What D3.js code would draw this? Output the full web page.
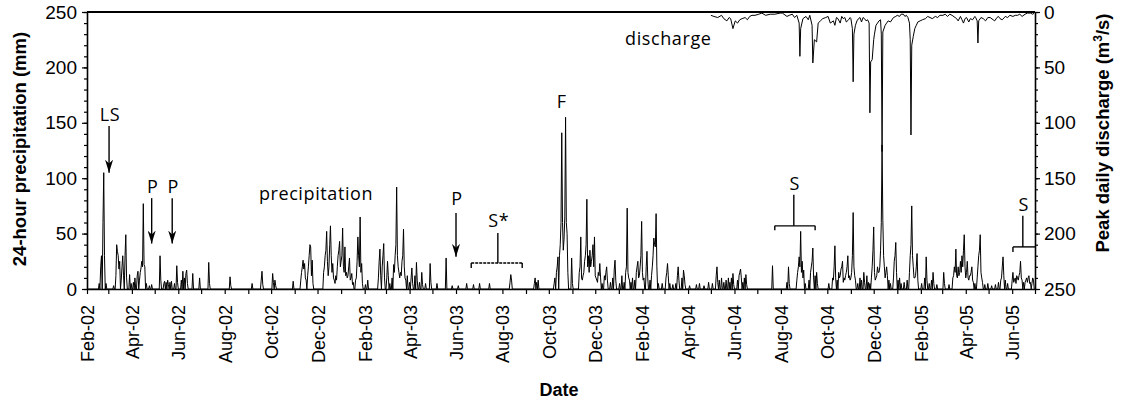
<!DOCTYPE html>
<html><head><meta charset="utf-8">
<script src="https://cdn.jsdelivr.net/npm/d3@7"></script>
<style>body{margin:0;background:#fff}svg{display:block}</style>
</head><body>
<svg id="chart" width="1121" height="400"></svg>
<script>
// ---------- DATA ----------
const xDomain = ["2002-02-01", "2005-07-01"];
const yTicks = [0, 50, 100, 150, 200, 250];
const yMinorTicks = d3.range(0, 251, 10);

// 24-hour precipitation (mm), [month-day, mm] per year (days not listed = 0)
const precip2002 = [
 ["02-17",5],["02-19",20],["02-20",30],["02-22",60],["02-23",105],["02-24",30],["02-26",5],
 ["03-08",3],["03-11",12],["03-12",40],["03-13",34],["03-14",30],["03-15",18],["03-16",25],["03-18",8],["03-19",20],["03-20",30],["03-21",12],["03-23",30],["03-24",49],["03-25",10],["03-29",13],["03-31",5],
 ["04-03",6],["04-05",10],["04-08",12],["04-09",16],["04-11",8],["04-12",15],["04-13",19],["04-14",25],["04-15",20],["04-16",77],["04-17",22],["04-18",20],["04-20",5],["04-24",3],["04-27",4],
 ["05-08",30],["05-09",8],["05-13",5],["05-14",7],["05-16",6],["05-18",8],["05-19",4],["05-21",6],["05-23",7],["05-27",5],["05-30",21],["05-31",6],
 ["06-05",8],["06-07",16],["06-09",10],["06-11",14],["06-12",17],["06-13",5],["06-20",14],["06-29",10],
 ["07-11",24],["07-12",5],["08-08",11],["08-09",3],
 ["09-06",5],["09-18",8],["09-19",16],["09-20",4],
 ["10-03",14],["10-04",6],["10-06",8],["10-07",3],["10-30",7],
 ["11-09",8],["11-10",15],["11-11",20],["11-12",26],["11-13",18],["11-14",23],["11-15",10],["11-16",8],["11-18",12],["11-19",20],["11-20",30],["11-21",40],["11-22",38],["11-23",12],["11-24",26],["11-25",5],
 ["12-09",15],["12-10",20],["12-11",30],["12-12",35],["12-13",52],["12-14",25],["12-15",12],["12-16",20],["12-17",40],["12-18",57],["12-19",30],["12-20",15],["12-21",23],["12-22",10],["12-23",8],["12-24",5],["12-25",12],["12-26",8],["12-27",20],["12-28",30],["12-29",35],["12-30",43],["12-31",20]
];
const precip2003 = [
 ["01-01",25],["01-02",30],["01-03",55],["01-04",20],["01-05",15],["01-06",38],["01-07",12],["01-08",15],["01-09",10],["01-10",12],["01-11",20],["01-12",28],["01-13",8],["01-14",10],["01-15",14],["01-16",4],["01-17",6],["01-20",8],["01-21",10],["01-22",25],["01-23",47],["01-24",30],["01-25",20],["01-26",65],["01-27",15],["01-28",23],["01-29",5],
 ["02-02",4],["02-05",8],["02-19",10],["02-20",25],["02-21",36],["02-22",12],["02-24",20],["02-25",30],["02-26",41],["02-27",10],
 ["03-02",10],["03-03",25],["03-04",12],["03-06",5],["03-09",10],["03-11",22],["03-12",15],["03-13",30],["03-14",40],["03-15",92],["03-16",30],["03-17",20],["03-18",15],["03-19",10],["03-20",15],["03-21",12],["03-22",25],["03-23",30],["03-24",54],["03-25",20],["03-26",10],["03-27",8],["03-29",12],
 ["04-01",6],["04-03",10],["04-04",19],["04-05",5],["04-08",12],["04-10",24],["04-11",8],["04-14",6],["04-17",15],["04-18",4],["04-22",5],["04-28",23],["04-29",6],
 ["05-07",5],["05-19",28],["05-27",3],["06-04",3],["06-15",5],["06-24",4],["07-02",5],["07-15",5],
 ["08-11",6],["08-12",13],["08-13",8],["09-12",5],["09-13",10],["09-15",6],["09-17",8],
 ["10-08",5],["10-09",10],["10-11",15],["10-12",20],["10-13",29],["10-15",30],["10-16",40],["10-17",60],["10-18",141],["10-19",60],["10-20",35],["10-21",45],["10-22",65],["10-23",155],["10-24",60],["10-25",50],["10-26",15],["10-31",28],
 ["11-01",5],["11-10",15],["11-11",20],["11-12",47],["11-13",10],["11-14",8],["11-15",12],["11-16",15],["11-17",25],["11-18",30],["11-19",40],["11-20",81],["11-21",20],["11-22",30],["11-23",15],["11-24",35],["11-25",20],["11-26",25],["11-27",30],["11-28",40],["11-29",20],["11-30",47],
 ["12-01",12],["12-02",10],["12-03",8],["12-04",6],["12-05",15],["12-06",12],["12-07",23],["12-08",10],["12-10",5],["12-13",12],["12-14",8],["12-15",15],["12-16",20],["12-17",8],["12-21",6],["12-24",10],["12-26",18],["12-27",26],["12-28",8]
];
const precip2004 = [
 ["01-02",5],["01-05",12],["01-08",6],["01-10",15],["01-11",20],["01-12",73],["01-13",15],["01-14",10],["01-15",8],["01-17",6],["01-19",10],["01-22",8],["01-24",15],["01-25",20],["01-26",25],["01-27",10],["01-28",12],["01-29",20],["01-30",30],["01-31",61],
 ["02-01",15],["02-02",8],["02-03",10],["02-06",20],["02-07",34],["02-08",10],["02-11",8],["02-13",12],["02-14",20],["02-15",30],["02-16",46],["02-17",40],["02-18",38],["02-19",68],["02-20",20],["02-22",5],["02-27",5],
 ["03-03",10],["03-04",15],["03-05",23],["03-06",12],["03-08",5],["03-12",4],["03-16",5],["03-18",12],["03-19",20],["03-20",8],["03-24",10],["03-26",17],["03-27",12],["03-28",4],
 ["04-03",3],["04-12",4],["04-16",5],["04-22",3],["04-28",6],
 ["05-03",5],["05-08",12],["05-09",20],["05-10",6],["05-12",8],["05-15",10],["05-18",6],["05-21",8],["05-24",10],["05-26",6],["05-28",10],["05-30",14],["05-31",4],
 ["06-05",8],["06-07",12],["06-08",15],["06-09",18],["06-10",10],["06-12",6],["06-14",10],["06-16",13],["06-17",4],
 ["07-21",21],
 ["08-09",6],["08-11",20],["08-12",5],["08-22",8],["08-23",15],["08-24",20],["08-25",29],["08-26",20],["08-27",52],["08-28",15],["08-29",25],["08-30",10],["08-31",17],
 ["09-02",5],["09-07",8],["09-09",15],["09-10",20],["09-11",25],["09-12",37],["09-13",10],["09-15",12],["09-17",15],["09-18",5],
 ["10-03",5],["10-08",10],["10-09",8],["10-10",20],["10-11",39],["10-12",10],["10-14",8],["10-16",15],["10-17",10],["10-18",12],["10-19",18],["10-20",20],["10-21",25],["10-22",6],["10-23",10],["10-24",8],["10-25",12],["10-26",15],["10-27",20],["10-28",30],["10-29",10],["10-30",12],["10-31",8],
 ["11-01",10],["11-02",15],["11-03",30],["11-04",69],["11-05",20],["11-06",12],["11-07",8],["11-10",5],["11-13",10],["11-15",8],["11-18",15],["11-19",6],["11-22",12],["11-24",6],["11-26",5],["11-28",10],["11-29",20],["11-30",35],
 ["12-01",56],["12-02",15],["12-03",8],["12-04",10],["12-05",12],["12-06",20],["12-07",15],["12-08",15],["12-09",20],["12-10",35],["12-11",60],["12-12",130],["12-13",62],["12-14",30],["12-15",20],["12-16",10],["12-17",15],["12-18",20],["12-19",12],["12-21",8],["12-23",5],["12-27",10],["12-28",25],["12-29",30],["12-30",42],["12-31",15]
];
const precip2005 = [
 ["01-02",8],["01-04",10],["01-06",5],["01-10",6],["01-14",8],["01-17",15],["01-18",30],["01-19",40],["01-20",75],["01-21",30],["01-22",20],["01-23",10],["01-24",10],["01-25",12],["01-26",20],["01-27",32],["01-28",8],
 ["02-02",5],["02-06",10],["02-08",29],["02-09",8],["02-12",5],["02-15",8],["02-17",15],["02-18",5],["02-22",4],
 ["03-03",15],["03-04",5],["03-10",4],["03-15",10],["03-16",12],["03-17",20],["03-18",15],["03-19",36],["03-20",12],["03-21",10],["03-22",20],["03-23",12],["03-24",15],["03-25",25],["03-26",15],["03-27",30],["03-28",20],["03-29",35],["03-30",49],["03-31",20],
 ["04-01",10],["04-02",15],["04-03",25],["04-04",10],["04-05",8],["04-06",12],["04-07",12],["04-08",15],["04-09",20],["04-10",8],["04-11",6],["04-13",5],["04-16",10],["04-17",20],["04-18",30],["04-19",35],["04-20",49],["04-21",15],["04-22",10],["04-23",6],["04-26",4],["04-30",5],
 ["05-05",3],["05-10",4],["05-14",6],["05-17",8],["05-18",10],["05-19",20],["05-20",29],["05-21",12],["05-23",8],["05-26",5],
 ["06-01",8],["06-02",15],["06-03",6],["06-04",8],["06-05",10],["06-06",5],["06-07",12],["06-08",10],["06-09",8],["06-10",12],["06-11",15],["06-12",25],["06-13",10],["06-14",8],["06-16",6],["06-18",6],["06-19",8],["06-20",10],["06-21",6],["06-22",10],["06-23",12],["06-24",5],["06-25",6],["06-27",5],["06-28",10],["06-29",8]
];
const precipByYear = [[2002, precip2002], [2003, precip2003], [2004, precip2004], [2005, precip2005]];

// Peak daily discharge (m3/s)
const discharge = [
 ["2004-05-01",3],["2004-05-05",4],["2004-05-10",5],["2004-05-15",3],["2004-05-18",6],["2004-05-22",8],["2004-05-25",5],["2004-05-27",6],["2004-05-30",15],
 ["2004-06-02",8],["2004-06-05",10],["2004-06-08",7],["2004-06-11",6],["2004-06-15",5],["2004-06-18",7],["2004-06-21",4],["2004-06-24",3],["2004-06-28",3],
 ["2004-07-03",2],["2004-07-07",1],["2004-07-12",3],["2004-07-18",2],["2004-07-24",2],["2004-07-31",1],
 ["2004-08-03",1],["2004-08-09",4],["2004-08-12",3],["2004-08-16",2],["2004-08-19",5],["2004-08-22",3],["2004-08-25",10],["2004-08-26",40],["2004-08-27",15],["2004-08-30",6],
 ["2004-09-03",4],["2004-09-06",7],["2004-09-08",3],["2004-09-11",12],["2004-09-12",46],["2004-09-14",25],["2004-09-17",27],["2004-09-19",10],["2004-09-22",8],["2004-09-25",6],["2004-09-29",5],
 ["2004-10-02",4],["2004-10-05",10],["2004-10-09",8],["2004-10-11",12],["2004-10-13",5],["2004-10-15",6],["2004-10-18",10],["2004-10-20",4],["2004-10-22",6],["2004-10-24",5],["2004-10-26",9],["2004-10-29",7],["2004-10-31",5],
 ["2004-11-01",6],["2004-11-03",15],["2004-11-04",63],["2004-11-05",20],["2004-11-07",12],["2004-11-09",8],["2004-11-11",6],["2004-11-13",5],["2004-11-15",9],["2004-11-17",5],["2004-11-19",6],["2004-11-21",8],["2004-11-23",7],["2004-11-25",10],["2004-11-26",91],["2004-11-27",45],["2004-11-29",43],
 ["2004-12-01",25],["2004-12-02",20],["2004-12-04",12],["2004-12-06",10],["2004-12-08",8],["2004-12-10",7],["2004-12-11",20],["2004-12-12",126],["2004-12-13",18],["2004-12-16",12],["2004-12-18",10],["2004-12-20",8],["2004-12-23",9],["2004-12-27",5],["2004-12-30",4],
 ["2005-01-01",3],["2005-01-04",4],["2005-01-06",2],["2005-01-09",2],["2005-01-11",4],["2005-01-13",3],["2005-01-15",5],["2005-01-17",10],["2005-01-18",25],["2005-01-19",111],["2005-01-20",30],["2005-01-22",22],["2005-01-24",15],["2005-01-26",12],["2005-01-28",9],["2005-01-31",8],
 ["2005-02-03",7],["2005-02-07",6],["2005-02-10",4],["2005-02-13",5],["2005-02-16",6],["2005-02-20",4],["2005-02-23",5],["2005-02-26",3],
 ["2005-03-02",3],["2005-03-05",2],["2005-03-08",4],["2005-03-11",2],["2005-03-14",3],["2005-03-18",5],["2005-03-20",6],["2005-03-22",8],["2005-03-25",4],["2005-03-27",7],["2005-03-29",10],["2005-03-31",6],
 ["2005-04-02",5],["2005-04-05",9],["2005-04-07",6],["2005-04-10",7],["2005-04-13",4],["2005-04-14",5],["2005-04-16",8],["2005-04-17",28],["2005-04-18",8],["2005-04-21",5],["2005-04-24",6],["2005-04-27",8],["2005-04-30",5],
 ["2005-05-03",5],["2005-05-07",7],["2005-05-09",8],["2005-05-12",5],["2005-05-14",4],["2005-05-16",6],["2005-05-19",7],["2005-05-23",4],["2005-05-26",5],["2005-05-29",3],
 ["2005-06-02",4],["2005-06-05",3],["2005-06-08",3],["2005-06-11",2],["2005-06-14",4],["2005-06-18",2],["2005-06-21",1],["2005-06-25",1],["2005-06-28",2],["2005-06-30",1]
];

// Annotations (positions in data units: date, precipitation mm)
const arrowNotes = [
 {label:"LS", date:"2002-03-02", textAt:152, from:147, to:105},
 {label:"P", date:"2002-04-27", textAt:87, from:82, to:41},
 {label:"P", date:"2002-05-24", textAt:87, from:82, to:41},
 {label:"P", date:"2003-06-01", textAt:75.5, from:68.5, to:29}
];
const bracketNotes = [
 {label:"S*", date:"2003-07-26", start:"2003-06-21", end:"2003-08-27", textAt:56, top:50.5, bar:23.5, tick:19, dashed:true, ends:[true,true]},
 {label:"S", date:"2004-08-18", start:"2004-07-24", end:"2004-09-15", textAt:89.5, top:85, bar:57, tick:53, dashed:false, ends:[true,true]},
 {label:"S", date:"2005-06-15", start:"2005-06-02", end:"2005-07-01", textAt:70.5, top:66, bar:38, tick:33.5, dashed:false, ends:[true,false]}
];
const textNotes = [
 {label:"F", date:"2003-10-18", at:163},
 {label:"precipitation", date:"2002-11-29", at:80},
 {label:"discharge", date:"2004-03-06", at:220.5}
];

// ---------- CHART ----------
const M = {left:87, right:1035, top:12, bottom:289};
const parse = d3.timeParse("%Y-%m-%d");
const fmtKey = d3.timeFormat("%Y-%m-%d");
const fmtLabel = d3.timeFormat("%b-%y");
const svg = d3.select("#chart");
const axisFont = "'Liberation Sans', Arial, sans-serif";
const noteFont = "'Open Sans', 'Noto Sans', sans-serif";

const x = d3.scaleTime().domain(xDomain.map(parse)).range([M.left, M.right]);
const yP = d3.scaleLinear().domain([0, 250]).range([M.bottom, M.top]);
const yQ = d3.scaleLinear().domain([0, 250]).range([M.top, M.bottom]);

// daily precipitation series
const pMap = new Map();
precipByYear.forEach(([yr, arr]) => arr.forEach(([md, v]) => pMap.set(yr + "-" + md, v)));
const days = d3.timeDay.range(parse(xDomain[0]), parse(xDomain[1]));
const daily = days.map(d => ({date: d, v: pMap.get(fmtKey(d)) || 0}));

svg.append("path").datum(daily)
  .attr("fill", "none").attr("stroke", "#000").attr("stroke-width", 1)
  .attr("d", d3.line().x(d => x(d.date)).y(d => yP(d.v)));

const dq = discharge.map(([d, v]) => ({date: parse(d), v}));
svg.append("path").datum(dq)
  .attr("fill", "none").attr("stroke", "#000").attr("stroke-width", 1)
  .attr("d", d3.line().x(d => x(d.date)).y(d => yQ(d.v)));

// top frame line
svg.append("line").attr("x1", M.left).attr("x2", M.right).attr("y1", M.top).attr("y2", M.top)
  .attr("stroke", "#000").attr("stroke-width", 1.8);

function styleAxis(g, size) {
  g.select(".domain").attr("stroke-width", 1.6);
  g.selectAll(".tick line").attr("stroke-width", 1.2);
  g.selectAll("text").attr("font-family", axisFont).attr("font-size", size).attr("fill", "#000");
}

// x axis
const gx = svg.append("g").attr("transform", `translate(0,${M.bottom})`)
  .call(d3.axisBottom(x).ticks(d3.timeMonth.every(1)).tickSize(5).tickSizeOuter(0)
    .tickFormat(d => d.getMonth() % 2 === 1 ? fmtLabel(d) : ""));
styleAxis(gx, 18);
gx.selectAll(".tick text").attr("transform", "rotate(-90)")
  .attr("text-anchor", "end").attr("x", -16).attr("y", 0).attr("dy", "0.36em");

// left axis
const gyMinor = svg.append("g").attr("transform", `translate(${M.left},0)`)
  .call(d3.axisLeft(yP).tickValues(yMinorTicks).tickSize(3).tickFormat(""));
gyMinor.select(".domain").remove();
gyMinor.selectAll(".tick line").attr("stroke-width", 1.2);
const gy = svg.append("g").attr("transform", `translate(${M.left},0)`)
  .call(d3.axisLeft(yP).tickValues(yTicks).tickSize(5).tickSizeOuter(0).tickPadding(5));
styleAxis(gy, 19);

// right axis
const gqMinor = svg.append("g").attr("transform", `translate(${M.right},0)`)
  .call(d3.axisRight(yQ).tickValues(yMinorTicks).tickSize(3).tickFormat(""));
gqMinor.select(".domain").remove();
gqMinor.selectAll(".tick line").attr("stroke-width", 1.2);
const gq = svg.append("g").attr("transform", `translate(${M.right},0)`)
  .call(d3.axisRight(yQ).tickValues(yTicks).tickSize(5).tickSizeOuter(0).tickPadding(4));
styleAxis(gq, 19);

// axis titles
svg.append("text").attr("transform", "translate(20,149) rotate(-90)")
  .attr("text-anchor", "middle").attr("dy", "0.35em")
  .attr("font-family", axisFont).attr("font-weight", "bold").attr("font-size", 18.5)
  .text("24-hour precipitation (mm)");
const rt = svg.append("text").attr("transform", "translate(1103,133) rotate(-90)")
  .attr("text-anchor", "middle").attr("dy", "0.35em")
  .attr("font-family", axisFont).attr("font-weight", "bold").attr("font-size", 18.5);
rt.append("tspan").text("Peak daily discharge (m");
rt.append("tspan").attr("dy", -7).attr("font-size", 12).text("3");
rt.append("tspan").attr("dy", 7).text("/s)");
svg.append("text").attr("x", 559).attr("y", 396).attr("text-anchor", "middle")
  .attr("font-family", axisFont).attr("font-weight", "bold").attr("font-size", 18)
  .text("Date");

// annotations
const defs = svg.append("defs");
defs.append("marker").attr("id", "arrow").attr("viewBox", "0 0 10 10")
  .attr("refX", 10).attr("refY", 5).attr("markerUnits", "userSpaceOnUse")
  .attr("markerWidth", 13).attr("markerHeight", 8).attr("orient", "auto")
  .attr("preserveAspectRatio", "none")
  .append("path").attr("d", "M0,0 L10,5 L0,10 L3,5 Z").attr("fill", "#000");

const noteText = (xx, yy, s) => svg.append("text").attr("x", xx).attr("y", yy)
  .attr("text-anchor", "middle").attr("font-family", noteFont).attr("font-size", 18)
  .attr("letter-spacing", 0.6).attr("fill", "#000").text(s);

arrowNotes.forEach(n => {
  const xx = x(parse(n.date));
  noteText(xx + 1, yP(n.textAt), n.label);
  svg.append("line").attr("x1", xx).attr("x2", xx).attr("y1", yP(n.from)).attr("y2", yP(n.to))
    .attr("stroke", "#000").attr("stroke-width", 1.4).attr("marker-end", "url(#arrow)");
});
bracketNotes.forEach(n => {
  const xx = x(parse(n.date)), x0 = x(parse(n.start)), x1 = x(parse(n.end));
  noteText(xx + 1, yP(n.textAt), n.label);
  const g = svg.append("g").attr("stroke", "#000").attr("stroke-width", 1.4).attr("fill", "none");
  g.append("line").attr("x1", xx).attr("x2", xx).attr("y1", yP(n.top)).attr("y2", yP(n.bar));
  g.append("line").attr("x1", x0).attr("x2", x1).attr("y1", yP(n.bar)).attr("y2", yP(n.bar))
    .attr("stroke-dasharray", n.dashed ? "3,1" : null);
  if (n.ends[0]) g.append("line").attr("x1", x0).attr("x2", x0).attr("y1", yP(n.bar)).attr("y2", yP(n.tick));
  if (n.ends[1]) g.append("line").attr("x1", x1).attr("x2", x1).attr("y1", yP(n.bar)).attr("y2", yP(n.tick));
});
textNotes.forEach(n => noteText(x(parse(n.date)), yP(n.at), n.label));
</script>
</body></html>
